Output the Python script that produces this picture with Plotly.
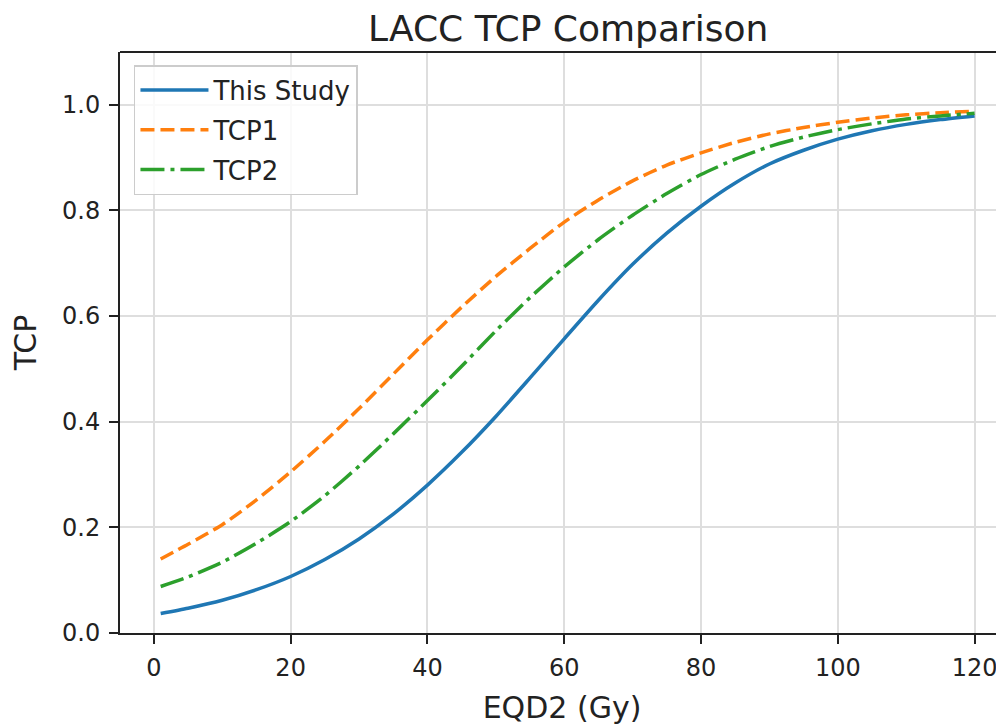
import plotly.graph_objects as go

# ---- data ----
eqd2 = [1, 5, 10, 15, 20, 25, 30, 35, 40, 45, 50, 55, 60, 65, 70, 75, 80,
        85, 90, 95, 100, 105, 110, 115, 120]
this_study = [0.037, 0.047, 0.062, 0.082, 0.107, 0.139, 0.178, 0.225, 0.280,
              0.342, 0.410, 0.483, 0.557, 0.630, 0.698, 0.757, 0.808, 0.852,
              0.888, 0.914, 0.935, 0.951, 0.963, 0.972, 0.979]
tcp1 = [0.140, 0.168, 0.205, 0.252, 0.305, 0.363, 0.425, 0.490, 0.555, 0.617,
        0.675, 0.728, 0.778, 0.820, 0.856, 0.886, 0.909, 0.929, 0.945, 0.957,
        0.967, 0.975, 0.981, 0.985, 0.988]
tcp2 = [0.088, 0.106, 0.134, 0.170, 0.211, 0.260, 0.316, 0.377, 0.440, 0.505,
        0.572, 0.635, 0.693, 0.745, 0.791, 0.832, 0.868, 0.897, 0.921, 0.939,
        0.953, 0.964, 0.973, 0.979, 0.984]
series_names = ["This Study", "TCP1", "TCP2"]
x_ticks = [0, 20, 40, 60, 80, 100, 120]
y_ticks = [0.0, 0.2, 0.4, 0.6, 0.8, 1.0]

FONT = "DejaVu Sans"
W, H = 996, 717  # page body has an 8px margin inside the 1004x725 window

fig = go.Figure()
styles = [("#1f77b4", "solid"), ("#ff7f0e", "14px,6px"), ("#2ca02c", "24px,6px,4px,6px")]
for name, ys, (col, dash) in zip(series_names, [this_study, tcp1, tcp2], styles):
    fig.add_trace(go.Scatter(x=eqd2, y=ys, mode="lines", name=name,
                             legendgroup=name,
                             line=dict(color=col, width=3.5, dash=dash, shape="spline", smoothing=0.6)))

axis_common = dict(showline=True, linecolor="#222222", linewidth=2,
                   ticks="outside", ticklen=9, tickwidth=2, tickcolor="#222222",
                   showgrid=True, gridcolor="#dedede", gridwidth=2, zeroline=False,
                   tickfont=dict(family=FONT, size=24, color="#222222"))

fig.update_layout(
    width=W, height=H,
    margin=dict(l=112, r=0, t=44, b=92),
    paper_bgcolor="white", plot_bgcolor="white",
    title=dict(text="LACC TCP Comparison", x=0.507, xref="paper", xanchor="center",
               y=1 - 20.5 / H, yref="container", yanchor="middle",
               font=dict(family=FONT, size=36, color="#222222")),
    xaxis=dict(range=[-4.95, 124.3], tickvals=x_ticks, ticklabelstandoff=3,
               title=dict(text="EQD2 (Gy)", font=dict(family=FONT, size=30, color="#222222"), standoff=16),
               **axis_common),
    yaxis=dict(range=[0, 1.1], tickvals=y_ticks, tickformat=".1f", ticklabelstandoff=4,
               title=dict(text="TCP", font=dict(family=FONT, size=30, color="#222222"), standoff=31),
               **axis_common),
    legend=dict(x=0.0158, y=0.9776, xanchor="left", yanchor="top",
                bgcolor="rgba(255,255,255,0.85)", bordercolor="#cccccc", borderwidth=1.5,
                font=dict(family=FONT, size=26, color="#222222"), tracegroupgap=3,
                itemwidth=68),
    showlegend=True,
)
fig.add_shape(type="line", xref="paper", yref="paper", x0=0, x1=1, y0=1, y1=1,
              line=dict(color="#222222", width=2))

fig.write_html("out.html")
